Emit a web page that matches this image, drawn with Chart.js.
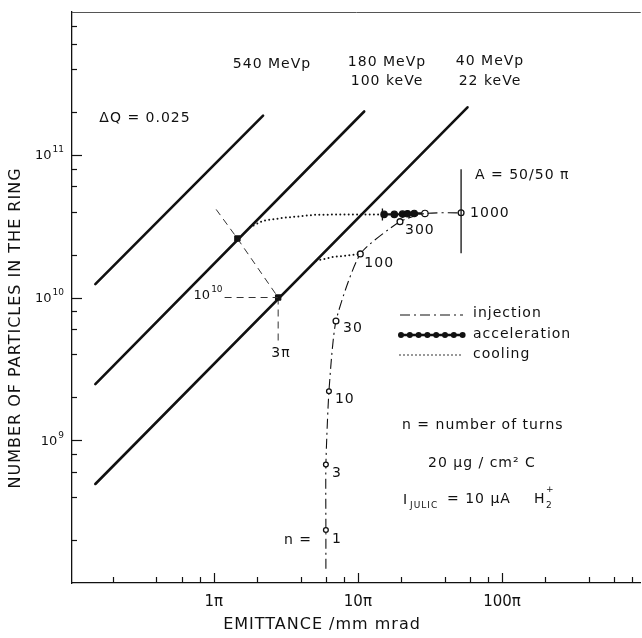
<!DOCTYPE html>
<html>
<head>
<meta charset="utf-8">
<script src="https://cdn.jsdelivr.net/npm/chart.js@4.4.1/dist/chart.umd.min.js"></script>
<style>
  html, body { margin: 0; padding: 0; background: #fff; overflow: hidden; }
  canvas { display: block; }
</style>
</head>
<body>
<!-- a little wider than the window: the figure is cut off at the right like the original -->
<canvas id="chart" width="648" height="638"></canvas>
<script>
// emittance in units of pi mm mrad, N = number of particles in the ring

// dQ = 0.025 limits
const line540Eps = [0.151, 2.20];
const line540N = [1.24e10, 1.88e11];
const line180Eps = [0.151, 11.06];
const line180N = [2.47e9, 2.01e11];
const line40Eps = [0.151, 57.6];
const line40N = [4.94e8, 2.15e11];

// injection (n = number of turns)
const injEps = [6.0, 6.0, 6.0, 6.3, 7.05, 10.4, 19.6, 29.2, 52];
const injN = [1.26e8, 2.35e8, 6.75e8, 2.2e9, 6.85e9, 2.02e10, 3.4e10, 3.88e10, 3.92e10];
const injTurns = [null, 1, 3, 10, 30, 100, 300, null, 1000];

// cooling
const coolUpEps = [1.78, 2.2, 3.0, 5.1, 10.7, 14.8];
const coolUpN = [3.1e10, 3.45e10, 3.61e10, 3.8e10, 3.82e10, 3.82e10];
const coolLowEps = [5.14, 6.7, 9.7, 10.4];
const coolLowN = [1.81e10, 1.92e10, 2.0e10, 2.02e10];

// acceleration
const accEps = [14.8, 15.2, 17.9, 20.4, 22.1, 24.6, 29.2];
const accN = [3.82e10, 3.82e10, 3.82e10, 3.84e10, 3.86e10, 3.88e10, 3.88e10];

// acceptance A = 50/50 pi
const acceptEps = [52, 52];
const acceptN = [2.04e10, 7.9e10];

// construction lines
const diagEps = [1.04, 1.46, 2.8];
const diagN = [4.14e10, 2.59e10, 1.0e10];
const horizEps = [1.19, 2.8];
const horizN = [1.0e10, 1.0e10];
const vertEps = [2.8, 2.8];
const vertN = [1.0e10, 4.97e9];
const squareEps = [1.46, 2.8];
const squareN = [2.59e10, 1.0e10];

// axes
const xMin = 0.104, xMax = 916;
const yMin = 1e8, yMax = 1e12;
const xTickValues = [1, 10, 100];
const xTickLabels = ['1π', '10π', '100π'];
const yTickValues = [1e9, 1e10, 1e11];
const yTickExps = ['9', '10', '11'];

const FONT = "'DejaVu Sans', 'Liberation Sans', sans-serif";
const INK = '#111';

function pts(xs, ys) {
  return xs.map((x, i) => ({ x: x, y: ys[i] }));
}

const solid = { borderColor: INK, borderWidth: 2.6, pointRadius: 0, showLine: true, borderCapStyle: 'round' };
const dashed = { borderColor: '#333', borderWidth: 1, borderDash: [7, 5], pointRadius: 0, showLine: true };
const dotted = { borderColor: INK, borderWidth: 2, borderDash: [0, 4.2], borderCapStyle: 'round', pointRadius: 0, showLine: true };

const datasets = [
  Object.assign({ label: '540 MeVp', data: pts(line540Eps, line540N) }, solid),
  Object.assign({ label: '180 MeVp', data: pts(line180Eps, line180N) }, solid),
  Object.assign({ label: '40 MeVp', data: pts(line40Eps, line40N) }, solid),
  Object.assign({ label: 'diag', data: pts(diagEps, diagN) }, dashed),
  Object.assign({ label: 'horiz', data: pts(horizEps, horizN) }, dashed),
  Object.assign({ label: 'vert', data: pts(vertEps, vertN) }, dashed),
  Object.assign({ label: 'cooling upper', data: pts(coolUpEps, coolUpN) }, dotted),
  Object.assign({ label: 'cooling lower', data: pts(coolLowEps, coolLowN) }, dotted),
  {
    label: 'acceptance', data: pts(acceptEps, acceptN), showLine: true,
    borderColor: INK, borderWidth: 1.3, pointRadius: 0
  },
  {
    label: 'injection', data: pts(injEps, injN), showLine: true, tension: 0.2,
    borderColor: INK, borderWidth: 1.1, borderDash: [10, 4, 2, 4],
    pointRadius: injTurns.map(t => t === null ? 0 : (t < 30 ? 2.4 : 2.9)),
    pointBackgroundColor: '#fff', pointBorderColor: INK, pointBorderWidth: 1.3
  },
  {
    label: 'acceleration', data: pts(accEps, accN), showLine: true,
    borderColor: INK, borderWidth: 2.4,
    pointStyle: accEps.map((e, i) => i === 0 ? 'line' : 'circle'),
    rotation: accEps.map((e, i) => i === 0 ? 90 : 0),
    pointRadius: accEps.map((e, i) => i === 0 ? 6 : 3.2),
    pointBackgroundColor: accEps.map((e, i) => i === accEps.length - 1 ? '#fff' : INK),
    pointBorderColor: INK, pointBorderWidth: accEps.map((e, i) => i === 0 ? 1.3 : 1.2)
  },
  {
    label: 'squares', data: pts(squareEps, squareN), showLine: false,
    pointStyle: 'rect', pointRadius: 3.8, pointBackgroundColor: INK, pointBorderColor: INK
  }
];

// free text on the figure
const notes = [
  { text: '540 MeVp', x: 272, y: 64 },
  { text: '180 MeVp', x: 387, y: 62 },
  { text: '100 keVe', x: 387, y: 81 },
  { text: '40 MeVp', x: 490, y: 61 },
  { text: '22 keVe', x: 490, y: 81 },
  { text: 'ΔQ = 0.025', x: 145, y: 118 },
  { text: 'A = 50/50 π', x: 475, y: 175, align: 'left' },
  { text: '3π', x: 281, y: 353 },
  { text: 'n =', x: 312, y: 540, align: 'right' },
  { text: 'injection', x: 473, y: 313, align: 'left' },
  { text: 'acceleration', x: 473, y: 334, align: 'left' },
  { text: 'cooling', x: 473, y: 354, align: 'left' },
  { text: 'n = number of turns', x: 402, y: 425, align: 'left' },
  { text: '20 μg / cm² C', x: 428, y: 463, align: 'left' }
];
// offsets of the turn labels from their circles
const turnOffsets = { 1: [6, 9], 3: [6, 9], 10: [6, 8], 30: [7, 7], 100: [4, 9], 300: [5, 9], 1000: [9, 1] };

function drawPower(ctx, exp, xRight, y) {
  // "10" with a raised exponent, right edge at xRight
  ctx.textAlign = 'left';
  ctx.font = '9px ' + FONT;
  const ew = ctx.measureText(exp).width;
  ctx.font = '13px ' + FONT;
  const bw = ctx.measureText('10').width;
  const x0 = xRight - ew - bw - 1;
  ctx.fillText('10', x0, y + 1);
  ctx.font = '9px ' + FONT;
  ctx.fillText(exp, x0 + bw + 1, y - 5);
}

const decor = {
  id: 'decor',
  afterDraw(chart) {
    const ctx = chart.ctx;
    const a = chart.chartArea;
    const xs = chart.scales.x, ys = chart.scales.y;
    ctx.save();
    ctx.strokeStyle = INK;
    ctx.fillStyle = INK;

    // top frame
    ctx.lineWidth = 1;
    ctx.strokeStyle = '#555';
    ctx.beginPath();
    ctx.moveTo(a.left, a.top + 0.5);
    ctx.lineTo(a.right, a.top + 0.5);
    ctx.stroke();
    ctx.strokeStyle = INK;

    // inward tick marks
    ctx.lineWidth = 1.2;
    [0.1, 1, 10, 100].forEach(d => {
      [1, 2, 4, 6, 8].forEach(m => {
        const v = d * m;
        if (v < xMin || v > xMax) return;
        const px = Math.round(xs.getPixelForValue(v)) + 0.5;
        const len = m === 1 ? 10 : 6;
        ctx.beginPath();
        ctx.moveTo(px, a.bottom);
        ctx.lineTo(px, a.bottom - len);
        ctx.stroke();
      });
    });
    [1e8, 1e9, 1e10, 1e11].forEach(d => {
      [1, 2, 4, 6, 8].forEach(m => {
        const v = d * m;
        if (v <= yMin || v >= yMax) return;
        const py = Math.round(ys.getPixelForValue(v)) + 0.5;
        const len = m === 1 ? 10 : 5;
        ctx.beginPath();
        ctx.moveTo(a.left, py);
        ctx.lineTo(a.left + len, py);
        ctx.stroke();
      });
    });

    // y tick labels as powers of ten
    ctx.textBaseline = 'middle';
    yTickValues.forEach((v, i) => {
      drawPower(ctx, yTickExps[i], a.left - 8, ys.getPixelForValue(v));
    });
    // 10^10 at the construction line
    drawPower(ctx, '10', xs.getPixelForValue(horizEps[0]) - 2, ys.getPixelForValue(horizN[0]) - 3);

    // legend samples
    ctx.lineWidth = 1.1;
    ctx.setLineDash([10, 4, 2, 4]);
    ctx.beginPath();
    ctx.moveTo(400, 315); ctx.lineTo(463, 315);
    ctx.stroke();
    ctx.setLineDash([]);
    ctx.lineWidth = 2.4;
    ctx.beginPath();
    ctx.moveTo(400, 335); ctx.lineTo(463, 335);
    ctx.stroke();
    for (let i = 0; i < 8; i++) {
      ctx.beginPath();
      ctx.arc(401 + i * 8.8, 335, 3, 0, Math.PI * 2);
      ctx.fill();
    }
    ctx.lineWidth = 1.6;
    ctx.lineCap = 'round';
    ctx.setLineDash([0, 4]);
    ctx.beginPath();
    ctx.moveTo(400, 355); ctx.lineTo(463, 355);
    ctx.stroke();
    ctx.setLineDash([]);
    ctx.lineCap = 'butt';

    // texts
    if ('letterSpacing' in ctx) ctx.letterSpacing = '1px';
    ctx.font = '14px ' + FONT;
    notes.forEach(n => {
      ctx.textAlign = n.align || 'center';
      ctx.fillText(n.text, n.x, n.y);
    });

    // turn labels next to the injection circles
    ctx.textAlign = 'left';
    injTurns.forEach((t, i) => {
      if (t === null) return;
      const px = xs.getPixelForValue(injEps[i]);
      const py = ys.getPixelForValue(injN[i]);
      const off = turnOffsets[t];
      ctx.fillText(String(t), px + off[0], py + off[1]);
    });

    // I_JULIC = 10 uA H2+
    ctx.fillText('I', 403, 500);
    ctx.font = '9px ' + FONT;
    ctx.fillText('JULIC', 410, 506);
    ctx.font = '14px ' + FONT;
    ctx.fillText('= 10 μA', 447, 499);
    ctx.fillText('H', 534, 499);
    ctx.font = '9px ' + FONT;
    ctx.fillText('2', 546, 506);
    ctx.fillText('+', 546, 490);

    // axis titles
    ctx.font = '16px ' + FONT;
    ctx.textAlign = 'center';
    ctx.fillText('EMITTANCE /mm mrad', 322, 625);
    ctx.translate(16, 328);
    ctx.rotate(-Math.PI / 2);
    ctx.fillText('NUMBER OF PARTICLES IN THE RING', 0, 0);
    ctx.restore();
  }
};

new Chart(document.getElementById('chart'), {
  type: 'scatter',
  data: { datasets: datasets },
  options: {
    responsive: false,
    animation: false,
    layout: { padding: { top: 12, right: 0, left: 0, bottom: 0 } },
    plugins: { legend: { display: false }, tooltip: { enabled: false } },
    scales: {
      x: {
        type: 'logarithmic', position: 'bottom', min: xMin, max: xMax,
        grid: { display: false },
        border: { display: true, color: INK, width: 1.3 },
        afterBuildTicks: s => { s.ticks = xTickValues.map(v => ({ value: v })); },
        afterFit: s => { s.height = 55; s.paddingLeft = 0; s.paddingRight = 0; },
        ticks: {
          autoSkip: false, maxRotation: 0, padding: 2, color: INK,
          font: { family: FONT, size: 15 },
          callback: (v, i) => xTickLabels[i]
        }
      },
      y: {
        type: 'logarithmic', position: 'left', min: yMin, max: yMax,
        grid: { display: false },
        border: { display: true, color: INK, width: 1.3 },
        afterBuildTicks: s => { s.ticks = yTickValues.map(v => ({ value: v })); },
        afterFit: s => { s.width = 72; s.paddingTop = 0; s.paddingBottom = 0; },
        ticks: { display: false }
      }
    }
  },
  plugins: [decor]
});
</script>
</body>
</html>
